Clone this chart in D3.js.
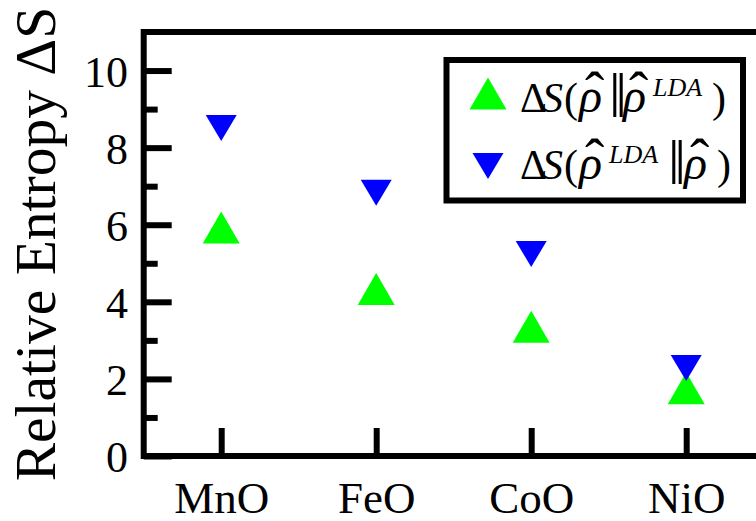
<!DOCTYPE html>
<html>
<head>
<meta charset="utf-8">
<script src="https://cdn.jsdelivr.net/npm/d3@7"></script>
<style>
  html, body { margin: 0; padding: 0; background: #fff; }
  svg { display: block; }
  text { font-family: "Liberation Serif", "Times New Roman", serif; fill: #000; }
</style>
</head>
<body>
<svg id="chart" width="756" height="521"></svg>
<script>
// oxides on the x axis
const categories = ["MnO", "FeO", "CoO", "NiO"];
// ΔS(ρ̂ ‖ ρ̂LDA), green up triangles
const forwardEntropy = [5.93, 4.33, 3.35, 1.76];
// ΔS(ρ̂LDA ‖ ρ̂), blue down triangles
const reverseEntropy = [8.51, 6.83, 5.24, 2.28];
const yMajorTicks = [0, 2, 4, 6, 8, 10];
const yMinorTicks = [1, 3, 5, 7, 9];

const svg = d3.select("#chart");
const lineW = 6;

const x = d3.scalePoint().domain(categories).range([143.7, 763.7]).padding(0.5);
const y = d3.scaleLinear().domain([0, 11]).range([456, 32]);

// triangle path centred on its bounding box
function triangle(w, h, up) {
  const p = d3.path();
  if (up) {
    p.moveTo(0, -h / 2);
    p.lineTo(w / 2, h / 2);
    p.lineTo(-w / 2, h / 2);
  } else {
    p.moveTo(0, h / 2);
    p.lineTo(w / 2, -h / 2);
    p.lineTo(-w / 2, -h / 2);
  }
  p.closePath();
  return p.toString();
}
const upTri = triangle(37, 32, true);
const downTri = triangle(31, 26, false);

// y axis, major + minor ticks pointing inward
const yAxis = svg.append("g").attr("transform", `translate(${x.range()[0]},0)`);
yAxis.call(d3.axisLeft(y).tickValues(yMajorTicks).tickSizeInner(-28).tickSizeOuter(0).tickPadding(15.7));
yAxis.append("g").call(d3.axisLeft(y).tickValues(yMinorTicks).tickSizeInner(-14).tickSizeOuter(0).tickFormat(""));
yAxis.selectAll(".domain").remove();
yAxis.selectAll("line").attr("stroke", "#000").attr("stroke-width", lineW);
yAxis.selectAll("text")
  .attr("font-size", 44)
  .attr("font-family", "Liberation Serif")
  .attr("dy", "0.36em");

// x axis
const xAxis = svg.append("g").attr("transform", `translate(0,${y(0)})`);
xAxis.call(d3.axisBottom(x).tickSizeInner(-28).tickSizeOuter(0));
xAxis.selectAll(".domain").remove();
xAxis.selectAll("line").attr("stroke", "#000").attr("stroke-width", lineW);
xAxis.selectAll("text")
  .attr("font-size", 45)
  .attr("font-family", "Liberation Serif")
  .attr("y", 57)
  .attr("dy", 0);

// frame
svg.append("rect")
  .attr("x", x.range()[0])
  .attr("y", y(11))
  .attr("width", x.range()[1] - x.range()[0])
  .attr("height", y(0) - y(11))
  .attr("fill", "none")
  .attr("stroke", "#000")
  .attr("stroke-width", lineW);

// y title
svg.append("text")
  .attr("transform", "translate(55,244) rotate(-90)")
  .attr("text-anchor", "middle")
  .attr("font-size", 57.5)
  .text("Relative Entropy ΔS");

// markers
svg.append("g").selectAll("path")
  .data(categories)
  .join("path")
  .attr("d", upTri)
  .attr("transform", (d, i) => `translate(${x(d)},${y(forwardEntropy[i])})`)
  .attr("fill", "#00ff00");

svg.append("g").selectAll("path")
  .data(categories)
  .join("path")
  .attr("d", downTri)
  .attr("transform", (d, i) => `translate(${x(d)},${y(reverseEntropy[i])})`)
  .attr("fill", "#0000ff");

// legend
const legend = svg.append("g");
legend.append("rect")
  .attr("x", 446.5).attr("y", 60)
  .attr("width", 296.5).attr("height", 140.5)
  .attr("fill", "#fff")
  .attr("stroke", "#000")
  .attr("stroke-width", lineW);
legend.append("path").attr("d", upTri).attr("transform", "translate(488,93.5)").attr("fill", "#00ff00");
legend.append("path").attr("d", downTri).attr("transform", "translate(488,166)").attr("fill", "#0000ff");

// pieces of each legend label: [text, x, dy from baseline, size, italic]
function legendLine(base, pieces) {
  const t = legend.append("text");
  pieces.forEach(([s, px, dy, size, it]) => {
    t.append("tspan")
      .attr("x", px)
      .attr("y", base + dy)
      .attr("font-family", "Liberation Serif")
      .attr("font-size", size)
      .attr("font-style", it ? "italic" : "normal")
      .text(s);
  });
}
function rhoHat(px) {
  return [["ρ", px, 0, 48, true], ["ˆ", px + 6, -1, 58, false]];
}
legendLine(112, [
  ["Δ", 520, 0, 42, false],
  ["S", 542, 0, 42, true],
  ["(", 564, 0, 42, false],
  ...rhoHat(579),
  ["‖", 609, 5, 64, false],
  ...rhoHat(623),
  ["LDA", 653, -16, 26, true],
  [")", 712, 0, 42, false]
]);
legendLine(179, [
  ["Δ", 520, 0, 42, false],
  ["S", 542, 0, 42, true],
  ["(", 564, 0, 42, false],
  ...rhoHat(579),
  ["LDA", 609, -16, 26, true],
  ["‖", 668, 5, 64, false],
  ...rhoHat(684),
  [")", 717, 0, 42, false]
]);
</script>
</body>
</html>
